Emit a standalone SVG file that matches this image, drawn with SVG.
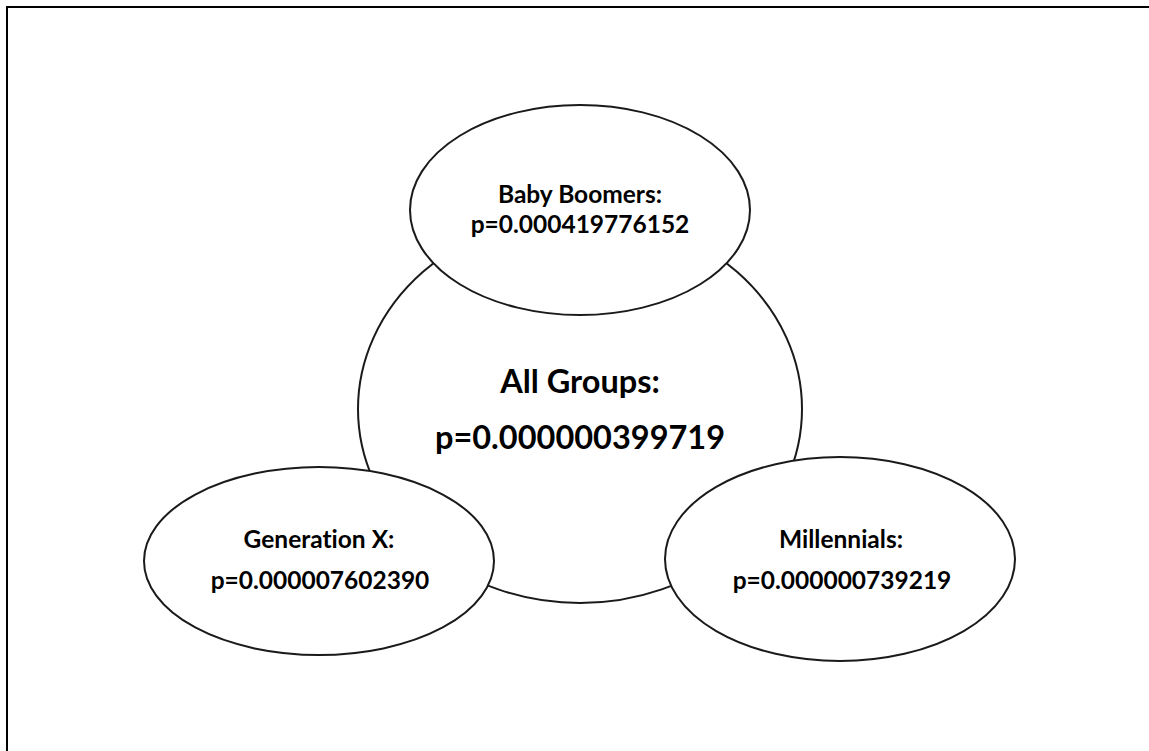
<svg xmlns="http://www.w3.org/2000/svg" width="1149" height="751" viewBox="0 0 1149 751">
<style>
.node{fill:#fff;stroke:#1a1a1a;stroke-width:2}
.t{font-family:Lato,"Open Sans","Liberation Sans",sans-serif;font-weight:bold;fill:#000;text-anchor:middle;font-variant-ligatures:none;font-feature-settings:"liga" 0}
.s{font-size:24.5px}
.b{font-size:32.5px}
</style>
<rect width="1149" height="751" fill="#fff"/>
<path d="M7,751 V7 H1149" fill="none" stroke="#000" stroke-width="2"/>
<g id="connectors"></g>
<g id="all-groups">
<ellipse class="node" cx="580" cy="409" rx="222" ry="194"/>
<text class="t b" x="580" y="393">All Groups:</text>
<text class="t b" x="580" y="449">p=0.000000399719</text>
</g>
<g id="baby-boomers">
<ellipse class="node" cx="580" cy="210" rx="170" ry="105"/>
<text class="t s" x="580" y="203">Baby Boomers:</text>
<text class="t s" x="580" y="233">p=0.000419776152</text>
</g>
<g id="generation-x">
<ellipse class="node" cx="319" cy="561" rx="175" ry="94"/>
<text class="t s" x="319" y="548">Generation X:</text>
<text class="t s" x="320" y="589">p=0.000007602390</text>
</g>
<g id="millennials">
<ellipse class="node" cx="840" cy="559" rx="175" ry="102"/>
<text class="t s" x="841" y="548">Millennials:</text>
<text class="t s" x="842" y="589">p=0.000000739219</text>
</g>
</svg>
